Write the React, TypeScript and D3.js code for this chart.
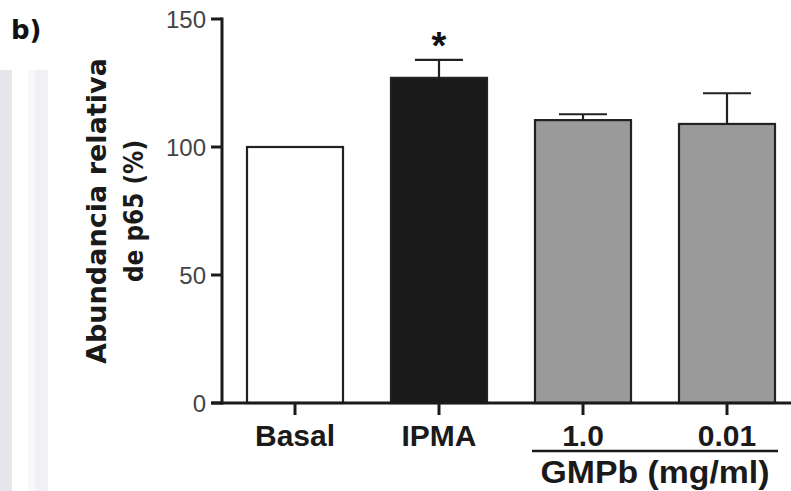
import React from "react";
import * as d3 from "d3";

const categories = ["Basal", "IPMA", "1.0", "0.01"];
const values = [100, 127, 110.5, 109];
const errors = [0, 7, 2.3, 12];
const fills = ["#ffffff", "#1a1a1a", "#9a9a9a", "#9a9a9a"];
const yTicks = [0, 50, 100, 150];
const significance = ["", "*", "", ""];

const W = 791;
const H = 491;

export default function App() {
  const x = d3
    .scaleBand<string>()
    .domain(categories)
    .range([223, 799])
    .paddingInner(1 / 3)
    .paddingOuter(1 / 6);
  const y = d3.scaleLinear().domain([0, 150]).range([403, 19]);
  const axisX = 222;
  const bw = x.bandwidth();
  const labelFont = "'Liberation Sans', Arial, sans-serif";

  const g1 = x("1.0")! + bw / 2;
  const g2 = x("0.01")! + bw / 2;

  return (
    <svg
      width={W}
      height={H}
      style={{ position: "absolute", left: 0, top: 0, background: "#fff" }}
    >
      <rect x={0} y={0} width={W} height={H} fill="#fff" />
      {/* faint left page band */}
      <rect x={0} y={70} width={12} height={H - 70} fill="#e6e6ec" />
      <rect x={28} y={70} width={7} height={H - 70} fill="#f8f8fa" />
      <rect x={35} y={70} width={13} height={H - 70} fill="#f1f1f5" />

      {/* panel label */}
      <text
        x={11}
        y={39}
        fontFamily={"'DejaVu Sans', sans-serif"}
        fontWeight="bold"
        fontSize={26}
        fill="#111"
      >
        b)
      </text>

      {/* bars */}
      {categories.map((c, i) => {
        const bx = x(c)!;
        return (
          <rect
            key={c}
            x={bx}
            y={y(values[i])}
            width={bw}
            height={y(0) - y(values[i])}
            fill={fills[i]}
            stroke="#222"
            strokeWidth={2.2}
          />
        );
      })}

      {/* error bars */}
      {categories.map((c, i) => {
        if (!errors[i]) return null;
        const cx = x(c)! + bw / 2;
        const top = y(values[i] + errors[i]);
        return (
          <g key={"e" + c} stroke="#222" strokeWidth={2.2}>
            <line x1={cx} x2={cx} y1={y(values[i])} y2={top} />
            <line x1={cx - bw / 4} x2={cx + bw / 4} y1={top} y2={top} />
          </g>
        );
      })}

      {/* significance */}
      {categories.map((c, i) =>
        significance[i] ? (
          <text
            key={"s" + c}
            x={x(c)! + bw / 2}
            y={y(values[i] + errors[i]) - 1}
            textAnchor="middle"
            fontFamily={labelFont}
            fontWeight="bold"
            fontSize={38}
            fill="#111"
          >
            {significance[i]}
          </text>
        ) : null
      )}

      {/* y axis */}
      <line x1={axisX} x2={axisX} y1={y(150) - 1.5} y2={y(0) + 1.5} stroke="#1a1a1a" strokeWidth={3} />
      {yTicks.map((t) => (
        <g key={t}>
          <line x1={211} x2={axisX} y1={y(t)} y2={y(t)} stroke="#1a1a1a" strokeWidth={3} />
          <text
            x={206}
            y={y(t)}
            dy="0.36em"
            textAnchor="end"
            fontFamily={labelFont}
            fontSize={24}
            fill="#444"
          >
            {t}
          </text>
        </g>
      ))}

      {/* x axis */}
      <line x1={211} x2={W} y1={y(0)} y2={y(0)} stroke="#1a1a1a" strokeWidth={3} />
      {categories.map((c) => {
        const cx = x(c)! + bw / 2;
        return (
          <g key={"t" + c}>
            <line x1={cx} x2={cx} y1={y(0)} y2={415} stroke="#1a1a1a" strokeWidth={3} />
            <text
              x={cx}
              y={446}
              textAnchor="middle"
              fontFamily={labelFont}
              fontWeight="bold"
              fontSize={30}
              fill="#1a1a1a"
            >
              {c}
            </text>
          </g>
        );
      })}

      {/* group label */}
      <line x1={532} x2={778} y1={451} y2={451} stroke="#1a1a1a" strokeWidth={2.5} />
      <text
        x={(g1 + g2) / 2}
        y={483}
        textAnchor="middle"
        fontFamily={labelFont}
        fontWeight="bold"
        fontSize={31}
        textLength={229}
        lengthAdjust="spacingAndGlyphs"
        fill="#1a1a1a"
      >
        GMPb (mg/ml)
      </text>

      {/* y axis title */}
      <g transform="translate(0,211) rotate(-90)">
        <text
          x={0}
          y={106}
          textAnchor="middle"
          fontFamily={"'DejaVu Sans', sans-serif"}
          fontWeight="bold"
          fontSize={26}
          textLength={306}
          lengthAdjust="spacingAndGlyphs"
          fill="#1a1a1a"
        >
          Abundancia relativa
        </text>
        <text
          x={0}
          y={143}
          textAnchor="middle"
          fontFamily={"'DejaVu Sans', sans-serif"}
          fontWeight="bold"
          fontSize={26}
          textLength={142}
          lengthAdjust="spacingAndGlyphs"
          fill="#1a1a1a"
        >
          de p65 (%)
        </text>
      </g>
    </svg>
  );
}
